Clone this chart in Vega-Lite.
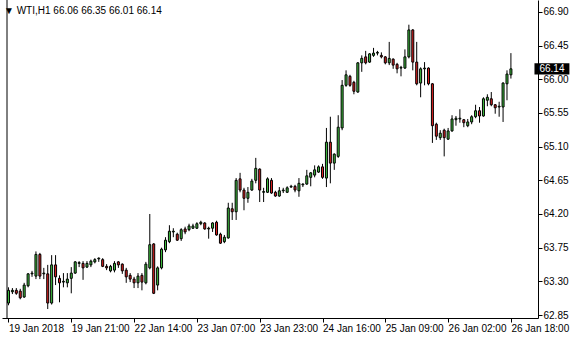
{
  "$schema": "https://vega.github.io/schema/vega-lite/v6.json",
  "width": 536,
  "height": 318,
  "autosize": {"type": "none"},
  "padding": {"left": 2, "top": 0, "right": 42, "bottom": 22},
  "background": "white",
  "title": {"text": "▼ WTI,H1  66.06 66.35 66.01 66.14", "anchor": "start", "frame": "group", "orient": "top", "offset": -16, "baseline": "top", "font": "Liberation Sans", "fontSize": 10, "fontWeight": "normal", "color": "black", "dx": 2},
  "config": {
    "view": {"stroke": null},
    "axis": {"grid": false, "domainColor": "black", "tickColor": "black", "labelColor": "black", "labelFont": "Liberation Sans", "labelFontSize": 10, "title": null, "labelOverlap": false, "labelFlush": false, "labelBound": false}
  },
  "datasets": {
    "bars": [
      {"i":0,"o":63.01,"h":63.22,"l":62.98,"c":63.18},
      {"i":1,"o":63.16,"h":63.21,"l":63.13,"c":63.18},
      {"i":2,"o":63.18,"h":63.21,"l":63.12,"c":63.14},
      {"i":3,"o":63.17,"h":63.20,"l":63.06,"c":63.08},
      {"i":4,"o":63.09,"h":63.28,"l":63.08,"c":63.25},
      {"i":5,"o":63.24,"h":63.41,"l":63.22,"c":63.40},
      {"i":6,"o":63.40,"h":63.44,"l":63.36,"c":63.41},
      {"i":7,"o":63.37,"h":63.70,"l":63.33,"c":63.66},
      {"i":8,"o":63.66,"h":63.68,"l":63.33,"c":63.37},
      {"i":9,"o":63.40,"h":63.48,"l":63.33,"c":63.41},
      {"i":10,"o":63.40,"h":63.52,"l":62.93,"c":63.01},
      {"i":11,"o":63.01,"h":63.65,"l":62.99,"c":63.52},
      {"i":12,"o":63.52,"h":63.65,"l":63.25,"c":63.36},
      {"i":13,"o":63.34,"h":63.38,"l":63.02,"c":63.28},
      {"i":14,"o":63.29,"h":63.41,"l":63.22,"c":63.30},
      {"i":15,"o":63.28,"h":63.41,"l":63.22,"c":63.33},
      {"i":16,"o":63.34,"h":63.49,"l":63.14,"c":63.41},
      {"i":17,"o":63.41,"h":63.57,"l":63.40,"c":63.56},
      {"i":18,"o":63.54,"h":63.57,"l":63.49,"c":63.55},
      {"i":19,"o":63.54,"h":63.57,"l":63.32,"c":63.48},
      {"i":20,"o":63.49,"h":63.57,"l":63.48,"c":63.54},
      {"i":21,"o":63.52,"h":63.59,"l":63.49,"c":63.57},
      {"i":22,"o":63.56,"h":63.61,"l":63.54,"c":63.59},
      {"i":23,"o":63.60,"h":63.62,"l":63.56,"c":63.61},
      {"i":24,"o":63.59,"h":63.61,"l":63.49,"c":63.50},
      {"i":25,"o":63.50,"h":63.53,"l":63.45,"c":63.48},
      {"i":26,"o":63.44,"h":63.52,"l":63.42,"c":63.50},
      {"i":27,"o":63.45,"h":63.57,"l":63.42,"c":63.54},
      {"i":28,"o":63.56,"h":63.57,"l":63.48,"c":63.52},
      {"i":29,"o":63.53,"h":63.54,"l":63.40,"c":63.44},
      {"i":30,"o":63.45,"h":63.48,"l":63.28,"c":63.36},
      {"i":31,"o":63.38,"h":63.41,"l":63.29,"c":63.33},
      {"i":32,"o":63.33,"h":63.36,"l":63.21,"c":63.28},
      {"i":33,"o":63.28,"h":63.41,"l":63.21,"c":63.37},
      {"i":34,"o":63.38,"h":63.41,"l":63.18,"c":63.29},
      {"i":35,"o":63.28,"h":63.56,"l":63.26,"c":63.53},
      {"i":36,"o":63.48,"h":64.20,"l":63.46,"c":63.79},
      {"i":37,"o":63.80,"h":63.81,"l":63.13,"c":63.14},
      {"i":38,"o":63.25,"h":63.50,"l":63.18,"c":63.48},
      {"i":39,"o":63.48,"h":63.75,"l":63.46,"c":63.73},
      {"i":40,"o":63.72,"h":63.89,"l":63.69,"c":63.85},
      {"i":41,"o":63.83,"h":64.05,"l":63.81,"c":63.97},
      {"i":42,"o":63.96,"h":64.01,"l":63.89,"c":63.97},
      {"i":43,"o":63.93,"h":63.95,"l":63.84,"c":63.85},
      {"i":44,"o":63.87,"h":64.01,"l":63.84,"c":63.99},
      {"i":45,"o":64.00,"h":64.03,"l":63.93,"c":63.96},
      {"i":46,"o":63.99,"h":64.07,"l":63.97,"c":64.04},
      {"i":47,"o":64.01,"h":64.07,"l":64.00,"c":64.04},
      {"i":48,"o":64.01,"h":64.09,"l":64.00,"c":64.07},
      {"i":49,"o":64.07,"h":64.11,"l":64.05,"c":64.09},
      {"i":50,"o":64.08,"h":64.09,"l":63.99,"c":64.00},
      {"i":51,"o":64.00,"h":64.03,"l":63.87,"c":64.01},
      {"i":52,"o":64.01,"h":64.09,"l":63.96,"c":64.08},
      {"i":53,"o":64.09,"h":64.11,"l":63.91,"c":63.92},
      {"i":54,"o":63.93,"h":63.95,"l":63.80,"c":63.81},
      {"i":55,"o":63.83,"h":63.92,"l":63.81,"c":63.89},
      {"i":56,"o":63.88,"h":64.35,"l":63.87,"c":64.28},
      {"i":57,"o":64.27,"h":64.35,"l":64.12,"c":64.23},
      {"i":58,"o":64.23,"h":64.68,"l":64.12,"c":64.65},
      {"i":59,"o":64.67,"h":64.75,"l":64.49,"c":64.52},
      {"i":60,"o":64.52,"h":64.55,"l":64.25,"c":64.41},
      {"i":61,"o":64.41,"h":64.56,"l":64.35,"c":64.49},
      {"i":62,"o":64.52,"h":64.67,"l":64.51,"c":64.64},
      {"i":63,"o":64.65,"h":64.95,"l":64.61,"c":64.81},
      {"i":64,"o":64.80,"h":64.81,"l":64.36,"c":64.52},
      {"i":65,"o":64.49,"h":64.55,"l":64.36,"c":64.50},
      {"i":66,"o":64.49,"h":64.69,"l":64.48,"c":64.67},
      {"i":67,"o":64.65,"h":64.68,"l":64.47,"c":64.48},
      {"i":68,"o":64.49,"h":64.51,"l":64.43,"c":64.44},
      {"i":69,"o":64.44,"h":64.56,"l":64.43,"c":64.51},
      {"i":70,"o":64.51,"h":64.55,"l":64.48,"c":64.52},
      {"i":71,"o":64.49,"h":64.57,"l":64.48,"c":64.55},
      {"i":72,"o":64.56,"h":64.59,"l":64.55,"c":64.57},
      {"i":73,"o":64.57,"h":64.59,"l":64.49,"c":64.52},
      {"i":74,"o":64.51,"h":64.68,"l":64.43,"c":64.61},
      {"i":75,"o":64.59,"h":64.61,"l":64.56,"c":64.60},
      {"i":76,"o":64.60,"h":64.79,"l":64.59,"c":64.71},
      {"i":77,"o":64.69,"h":64.76,"l":64.57,"c":64.75},
      {"i":78,"o":64.72,"h":64.85,"l":64.69,"c":64.79},
      {"i":79,"o":64.76,"h":64.85,"l":64.75,"c":64.83},
      {"i":80,"o":64.83,"h":64.87,"l":64.67,"c":64.69},
      {"i":81,"o":64.68,"h":65.35,"l":64.56,"c":65.16},
      {"i":82,"o":65.16,"h":65.50,"l":64.61,"c":64.88},
      {"i":83,"o":64.88,"h":65.01,"l":64.79,"c":65.00},
      {"i":84,"o":64.97,"h":65.52,"l":64.95,"c":65.36},
      {"i":85,"o":65.35,"h":65.99,"l":65.32,"c":65.92},
      {"i":86,"o":65.92,"h":66.12,"l":65.90,"c":66.06},
      {"i":87,"o":66.04,"h":66.06,"l":65.90,"c":65.92},
      {"i":88,"o":65.96,"h":65.98,"l":65.80,"c":65.84},
      {"i":89,"o":65.83,"h":66.23,"l":65.82,"c":66.22},
      {"i":90,"o":66.22,"h":66.32,"l":66.10,"c":66.28},
      {"i":91,"o":66.30,"h":66.38,"l":66.20,"c":66.22},
      {"i":92,"o":66.23,"h":66.35,"l":66.22,"c":66.34},
      {"i":93,"o":66.32,"h":66.42,"l":66.30,"c":66.35},
      {"i":94,"o":66.35,"h":66.38,"l":66.32,"c":66.36},
      {"i":95,"o":66.32,"h":66.36,"l":66.28,"c":66.30},
      {"i":96,"o":66.30,"h":66.31,"l":66.20,"c":66.22},
      {"i":97,"o":66.22,"h":66.50,"l":66.19,"c":66.28},
      {"i":98,"o":66.27,"h":66.28,"l":66.14,"c":66.19},
      {"i":99,"o":66.20,"h":66.22,"l":66.08,"c":66.14},
      {"i":100,"o":66.15,"h":66.18,"l":66.04,"c":66.16},
      {"i":101,"o":66.15,"h":66.40,"l":66.14,"c":66.30},
      {"i":102,"o":66.30,"h":66.73,"l":66.28,"c":66.66},
      {"i":103,"o":66.66,"h":66.67,"l":66.12,"c":66.23},
      {"i":104,"o":66.23,"h":66.50,"l":65.92,"c":65.94},
      {"i":105,"o":65.95,"h":66.16,"l":65.76,"c":66.14},
      {"i":106,"o":66.14,"h":66.23,"l":65.92,"c":66.15},
      {"i":107,"o":66.15,"h":66.16,"l":65.92,"c":65.94},
      {"i":108,"o":65.94,"h":65.95,"l":65.15,"c":65.38},
      {"i":109,"o":65.40,"h":65.42,"l":65.19,"c":65.24},
      {"i":110,"o":65.22,"h":65.32,"l":65.19,"c":65.28},
      {"i":111,"o":65.32,"h":65.34,"l":64.97,"c":65.22},
      {"i":112,"o":65.20,"h":65.35,"l":65.19,"c":65.31},
      {"i":113,"o":65.31,"h":65.52,"l":65.30,"c":65.47},
      {"i":114,"o":65.46,"h":65.51,"l":65.38,"c":65.48},
      {"i":115,"o":65.47,"h":65.60,"l":65.42,"c":65.48},
      {"i":116,"o":65.46,"h":65.47,"l":65.36,"c":65.42},
      {"i":117,"o":65.38,"h":65.47,"l":65.36,"c":65.43},
      {"i":118,"o":65.43,"h":65.52,"l":65.40,"c":65.50},
      {"i":119,"o":65.50,"h":65.66,"l":65.48,"c":65.58},
      {"i":120,"o":65.58,"h":65.63,"l":65.42,"c":65.51},
      {"i":121,"o":65.51,"h":65.76,"l":65.50,"c":65.74},
      {"i":122,"o":65.72,"h":65.80,"l":65.64,"c":65.76},
      {"i":123,"o":65.74,"h":65.83,"l":65.64,"c":65.66},
      {"i":124,"o":65.66,"h":65.67,"l":65.54,"c":65.62},
      {"i":125,"o":65.63,"h":65.70,"l":65.50,"c":65.64},
      {"i":126,"o":65.63,"h":65.96,"l":65.43,"c":65.95},
      {"i":127,"o":65.94,"h":66.12,"l":65.72,"c":66.07},
      {"i":128,"o":66.06,"h":66.35,"l":66.01,"c":66.14}
    ],
    "last": [{"price": 66.14}]
  },
  "layer": [
    {
      "data": {"name": "bars"},
      "mark": {"type": "rule", "color": "black", "strokeWidth": 1},
      "encoding": {
        "x": {"field": "i", "type": "quantitative",
          "scale": {"domain": [-0.375, 133.625], "nice": false, "zero": false},
          "axis": {"orient": "bottom", "values": [0,16,32,48,64,80,96,112,128], "tickCount": 20, "tickSize": 4, "labelAlign": "left", "labelPadding": 1, "labelOffset": 0,
            "labelExpr": "['19 Jan 2018','19 Jan 21:00','22 Jan 14:00','23 Jan 07:00','23 Jan 23:00','24 Jan 16:00','25 Jan 09:00','26 Jan 02:00','26 Jan 18:00'][round(datum.value/16)]"}},
        "y": {"field": "l", "type": "quantitative",
          "scale": {"domain": [62.81, 67.06], "nice": false, "zero": false},
          "axis": {"orient": "right", "values": [62.85,63.3,63.75,64.2,64.65,65.1,65.55,66.0,66.45,66.9], "tickCount": 20, "format": ".2f", "tickSize": 4, "labelPadding": 1}},
        "y2": {"field": "h"}
      }
    },
    {
      "data": {"name": "bars"},
      "mark": {"type": "bar", "width": 2, "stroke": "black", "strokeWidth": 1},
      "encoding": {
        "x": {"field": "i", "type": "quantitative"},
        "y": {"field": "o", "type": "quantitative"},
        "y2": {"field": "c"},
        "fill": {"condition": {"test": "datum.c >= datum.o", "value": "#3fbf3f"}, "value": "#dc2020"}
      }
    },
    {
      "data": {"values": [{"edge": -0.375}]},
      "mark": {"type": "rule", "color": "black", "strokeWidth": 1},
      "encoding": {"x": {"field": "edge", "type": "quantitative"}}
    },
    {
      "data": {"name": "last"},
      "mark": {"type": "rect", "fill": "black"},
      "encoding": {
        "x": {"datum": 134.0},
        "x2": {"datum": 142.9},
        "y": {"datum": 66.215},
        "y2": {"datum": 66.065}
      }
    },
    {
      "data": {"name": "last"},
      "mark": {"type": "text", "color": "white", "font": "Liberation Sans", "fontSize": 10, "align": "center", "baseline": "middle"},
      "encoding": {
        "x": {"datum": 138.45},
        "y": {"field": "price", "type": "quantitative"},
        "text": {"field": "price", "type": "quantitative", "format": ".2f"}
      }
    }
  ]
}
